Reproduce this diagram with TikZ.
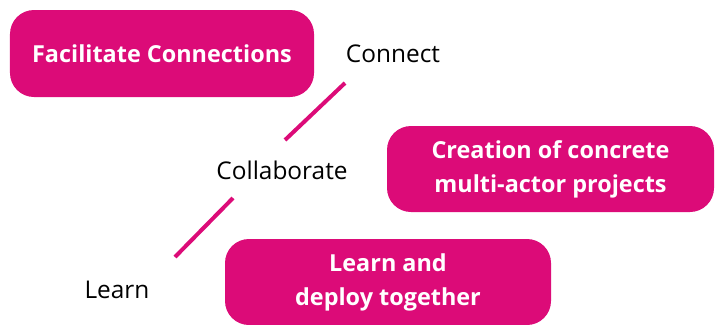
\documentclass[tikz,border=0pt]{standalone}
\usepackage{fontspec}
\setmainfont{Open Sans}
\definecolor{mag}{RGB}{220,11,120}
\begin{document}
\begin{tikzpicture}[x=1bp,y=-1bp,
  pill/.style={fill=mag,rounded corners=24bp,text=white,font=\fontsize{23.5}{34}\selectfont\bfseries,align=center,inner sep=0pt},
  lbl/.style={text=black,font=\fontsize{24.5}{28}\selectfont,inner sep=0pt},
  link/.style={draw=mag,line width=4bp}]
\useasboundingbox (0,0) rectangle (721,324);
\node[pill,minimum width=304bp,minimum height=87bp] (fc) at (162,53.5) {Facilitate Connections};
\node[pill,minimum width=327bp,minimum height=86bp] (cr) at (550.5,169) {Creation of concrete\\multi-actor projects};
\node[pill,minimum width=326bp,minimum height=86bp] (ld) at (388,282) {Learn and\\deploy together};
\node[lbl] (connect) at (393,54) {Connect};
\node[lbl] (collab) at (282,170) {Collaborate};
\node[lbl] (learn) at (117,290) {Learn};
\coordinate (a1) at (345,83);
\coordinate (a2) at (285,140);
\coordinate (b1) at (233,198);
\coordinate (b2) at (175,257);
\draw[link] (a1) -- (a2);
\draw[link] (b1) -- (b2);
\end{tikzpicture}
\end{document}
